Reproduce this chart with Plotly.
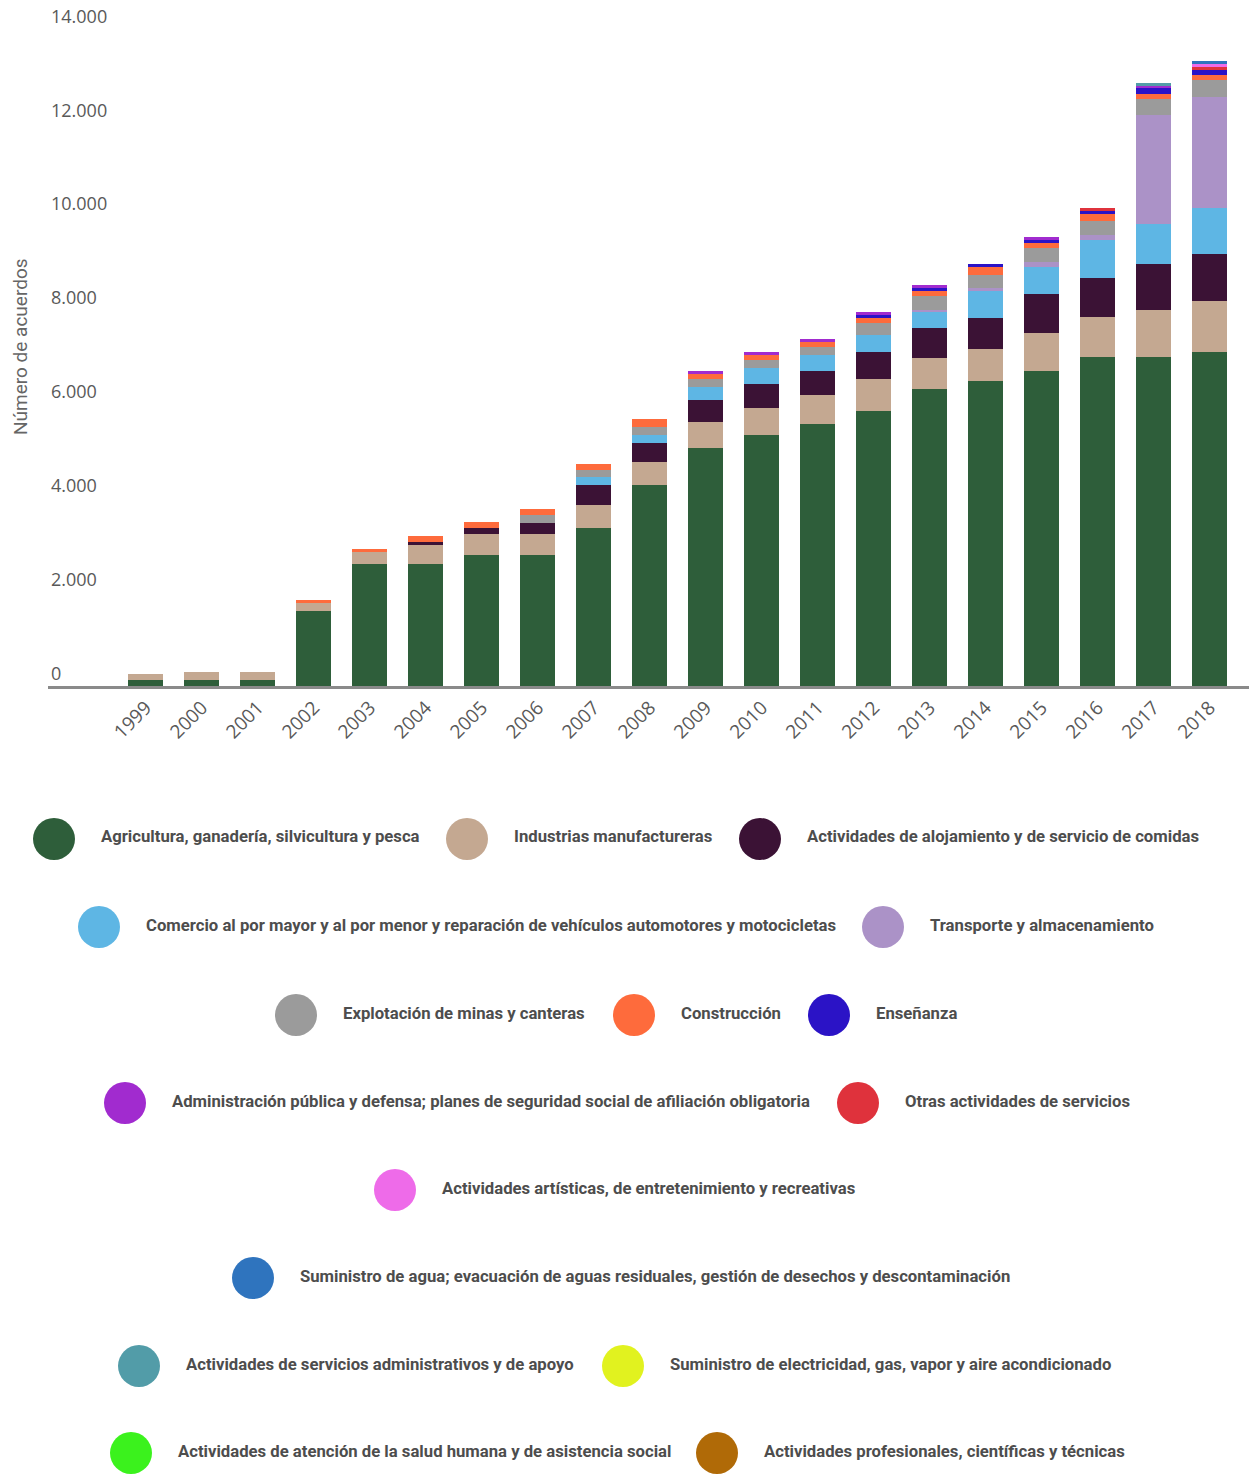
import plotly.graph_objects as go

# Años del periodo
years = [str(y) for y in range(1999, 2019)]

# Número de acuerdos por sector económico (series apiladas, de abajo hacia arriba)
agricultura = [120, 120, 120, 1590, 2610, 2610, 2790, 2790, 3360, 4280, 5070, 5350, 5580, 5860, 6330, 6500, 6710, 7010, 7010, 7120]
industrias = [130, 170, 170, 170, 235, 405, 450, 450, 490, 490, 555, 575, 620, 685, 660, 685, 810, 855, 1000, 1090]
alojamiento = [0, 0, 0, 0, 0, 45, 130, 235, 425, 405, 470, 510, 510, 575, 640, 660, 830, 830, 980, 1000]
comercio = [0, 0, 0, 0, 0, 0, 0, 0, 170, 170, 275, 340, 340, 350, 340, 575, 575, 810, 860, 980]
transporte = [0, 0, 0, 0, 0, 0, 0, 0, 0, 0, 0, 0, 0, 0, 45, 65, 105, 105, 2320, 2370]
minas = [0, 0, 0, 0, 0, 0, 0, 170, 150, 170, 170, 170, 170, 270, 300, 275, 300, 300, 340, 355]
construccion = [0, 0, 0, 65, 65, 130, 130, 130, 130, 170, 105, 105, 105, 105, 105, 170, 105, 150, 105, 105]
ensenanza = [0, 0, 0, 0, 0, 0, 0, 0, 0, 0, 0, 0, 0, 65, 65, 65, 65, 65, 130, 105]
administracion = [0, 0, 0, 0, 0, 0, 0, 0, 0, 0, 65, 65, 65, 65, 65, 0, 65, 0, 45, 0]
otras = [0, 0, 0, 0, 0, 0, 0, 0, 0, 0, 0, 0, 0, 0, 0, 0, 0, 65, 0, 65]
artisticas = [0] * 19 + [65]
agua = [0] * 19 + [65]
serv_admin = [0] * 18 + [65, 0]
electricidad = [0] * 20
salud = [0] * 20
profesionales = [0] * 20

# Marcas del eje vertical
y_ticks = [0, 2000, 4000, 6000, 8000, 10000, 12000, 14000]
y_tick_labels = ["0", "2.000", "4.000", "6.000", "8.000", "10.000", "12.000", "14.000"]

series = [
    ("Agricultura, ganadería, silvicultura y pesca", agricultura, "#2e5e3a"),
    ("Industrias manufactureras", industrias, "#c4a891"),
    ("Actividades de alojamiento y de servicio de comidas", alojamiento, "#3b1235"),
    ("Comercio al por mayor y al por menor y reparación de vehículos automotores y motocicletas", comercio, "#5eb6e4"),
    ("Transporte y almacenamiento", transporte, "#ab92c7"),
    ("Explotación de minas y canteras", minas, "#9b9b9b"),
    ("Construcción", construccion, "#fe6b3c"),
    ("Enseñanza", ensenanza, "#2b13c6"),
    ("Administración pública y defensa; planes de seguridad social de afiliación obligatoria", administracion, "#a12bcf"),
    ("Otras actividades de servicios", otras, "#df323c"),
    ("Actividades artísticas, de entretenimiento y recreativas", artisticas, "#ee6be9"),
    ("Suministro de agua; evacuación de aguas residuales, gestión de desechos y descontaminación", agua, "#2f74be"),
    ("Actividades de servicios administrativos y de apoyo", serv_admin, "#529ca8"),
    ("Suministro de electricidad, gas, vapor y aire acondicionado", electricidad, "#e1f21f"),
    ("Actividades de atención de la salud humana y de asistencia social", salud, "#3bf21d"),
    ("Actividades profesionales, científicas y técnicas", profesionales, "#b06a07"),
]

# Filas de la leyenda: (índice de serie, centro del círculo en px)
legend_rows = [
    [(0, 54), (1, 467), (2, 760)],
    [(3, 99), (4, 883)],
    [(5, 296), (6, 634), (7, 829)],
    [(8, 125), (9, 858)],
    [(10, 395)],
    [(11, 253)],
    [(12, 139), (13, 623)],
    [(14, 131), (15, 717)],
]
legend_row_y = [839, 927, 1015, 1103, 1190, 1278, 1366, 1453]

W, H = 1249, 1474
ML, MR, MT, MB = 48, 0, 0, 788
PW, PH = W - ML - MR, H - MT - MB
# El tope del área de trazado queda por encima de 14.000 para que su etiqueta sea visible
Y_MAX = 14000 * PH / (PH - 29)

fig = go.Figure()
for name, vals, color in series:
    fig.add_trace(go.Bar(
        x=years, y=vals, name=name, marker=dict(color=color, line=dict(width=0)),
        width=0.625, showlegend=False,
        hovertemplate="%{x}: %{y}<extra>" + name + "</extra>",
    ))


def px_to_paper_x(px):
    return (px - ML) / PW


def px_to_paper_y(py):
    return (H - MB - py) / PH


for row, cy in zip(legend_rows, legend_row_y):
    for idx, cx in row:
        name, _, color = series[idx]
        fig.add_shape(
            type="circle", xref="paper", yref="paper",
            xsizemode="pixel", ysizemode="pixel",
            xanchor=px_to_paper_x(cx), yanchor=px_to_paper_y(cy),
            x0=-21, x1=21, y0=-21, y1=21,
            fillcolor=color, line=dict(width=0),
        )
        fig.add_annotation(
            text="<b>" + name + "</b>", xref="paper", yref="paper",
            x=px_to_paper_x(cx + 45), y=px_to_paper_y(cy - 2),
            xanchor="left", yanchor="middle", showarrow=False,
            font=dict(family="Roboto", size=16.7, color="#4d4d4d"),
        )

fig.add_annotation(
    text="Número de acuerdos", xref="paper", yref="paper",
    x=px_to_paper_x(20), y=px_to_paper_y(347), textangle=-90,
    xanchor="center", yanchor="middle", showarrow=False,
    font=dict(family="Roboto", size=19, color="#666666"),
)

fig.update_layout(
    width=W, height=H, barmode="stack",
    margin=dict(l=ML, r=MR, t=MT, b=MB, autoexpand=False),
    paper_bgcolor="white", plot_bgcolor="white",
    font=dict(family="Open Sans", color="#595959"),
    xaxis=dict(
        type="category", range=[-1.75, 19.7], tickangle=-45,
        showline=True, linecolor="#8a8a8a", linewidth=3,
        ticks="", showgrid=False, zeroline=False,
        tickfont=dict(family="Open Sans", size=19, color="#595959"),
    ),
    yaxis=dict(
        range=[0, Y_MAX], tickvals=y_ticks, ticktext=y_tick_labels,
        ticklabelposition="inside top", showgrid=False, zeroline=False,
        showline=False, ticks="",
        tickfont=dict(family="Open Sans", size=18, color="#595959"),
    ),
)

fig.write_html("out.html")
